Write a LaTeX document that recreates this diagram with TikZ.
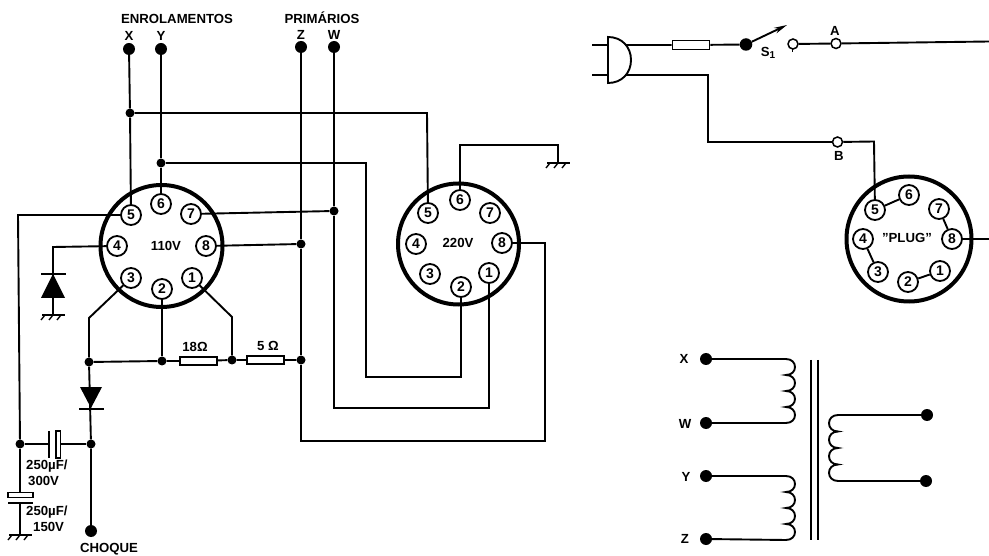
\documentclass[tikz,border=0pt]{standalone}
\usepackage{fontspec}
\setmainfont{Liberation Sans}
\usetikzlibrary{arrows.meta}
\tikzset{
  x=1pt,y=-1pt,
  wire/.style={line width=1.9pt,line join=miter},
  ring/.style={circle,draw,line width=4pt,inner sep=0pt,fill=white},
  pinc/.style={circle,draw,line width=1.8pt,fill=white,minimum size=20pt,inner sep=0pt,font=\bfseries\fontsize{14}{14}\selectfont},
  jn/.style={circle,fill=black,inner sep=0pt,minimum size=9pt},
  term/.style={circle,fill=black,inner sep=0pt,minimum size=12pt},
  opn/.style={circle,draw,line width=1.5pt,fill=white,inner sep=0pt,minimum size=10pt},
  res/.style={rectangle,draw,line width=1.8pt,fill=white,inner sep=0pt,minimum width=37pt,minimum height=8pt},
  lab/.style={inner sep=0pt,font=\bfseries\fontsize{13.2}{14}\selectfont,align=center}
}
\newcommand{\gnd}[2]{%
  \draw[line width=2.2pt] (#1-11,#2) -- (#1+12,#2);
  \foreach \d in {-8,0,8}{\draw[line width=1.4pt] (#1+\d,#2) -- (#1+\d-4,#2+5);}
}
\begin{document}
\begin{tikzpicture}
\useasboundingbox (0,0) rectangle (989,556);
\fill[white] (0,0) rectangle (989,556);

% sockets
\node[ring,minimum size=122pt] (LS) at (161.5,246) {};
\node[ring,minimum size=121pt] (RS) at (458.5,244) {};
\node[ring,minimum size=125pt] (PS) at (909,239) {};
\foreach \n/\x/\y in {5/131/215,6/161/204,7/191/214,8/206/246,1/192/278,2/162/289,3/131/278,4/117/246}
  \node[pinc] (L\n) at (\x,\y) {\n};
\foreach \n/\x/\y in {5/428/213,6/460/200,7/490/213,8/502/243,1/489/273,2/461/287,3/430/274,4/416/244}
  \node[pinc] (R\n) at (\x,\y) {\n};
\foreach \n/\x/\y in {5/875/210,6/909/195,7/939/209,8/952/239,1/940/271,2/908/282,3/878/272,4/863/239}
  \node[pinc] (P\n) at (\x,\y) {\n};
\node[lab] (t110) at (166,246) {110V};
\node[lab] (t220) at (458,243) {220V};
\node[lab] (tplug) at (907,238) {\symbol{34}PLUG\symbol{34}};

% terminals and junctions
\node[term] (TX) at (129,49) {};
\node[term] (TY) at (161,49) {};
\node[term] (TZ) at (301,47) {};
\node[term] (TW) at (334,47) {};
\node[jn] (JX) at (130,113) {};
\node[jn] (JY) at (161,163) {};
\node[jn] (JW) at (334,211) {};
\node[jn] (JZ) at (301,244) {};
\node[jn] (JR) at (301,360) {};
\node[jn] (JA) at (89,362) {};
\node[jn] (JB) at (162,361) {};
\node[jn] (JC) at (232,360) {};
\node[jn] (JD) at (20,444) {};
\node[jn] (JE) at (91,444) {};
\node[term] (CH) at (91,531) {};
\node[res] (RA) at (198.5,361) {};
\node[res] (RB) at (265.5,360) {};

% left socket wiring
\draw[wire] (TX) -- (JX) -- (L5);
\draw[wire] (TY) -- (JY) -- (L6);
\coordinate (x1) at (427,113);
\draw[wire] (JX) -- (x1) -- (R5);
\draw[wire] (TZ) -- (JZ) -- (JR);
\draw[wire] (TW) -- (JW);
\draw[wire] (L7) -- (JW);
\draw[wire] (L8) -- (JZ);
\draw[wire] (L2) -- (JB);
\draw[wire] (JA) -- (JB) -- (RA) -- (JC) -- (RB) -- (JR);
\coordinate (a3) at (89,318);
\coordinate (a1) at (232,317);
\draw[wire] (L3) -- (a3) -- (JA);
\draw[wire] (L1) -- (a1) -- (JC);

% long wires to right socket
\coordinate (c1) at (366,163); \coordinate (c2) at (366,377); \coordinate (c3) at (461,377);
\draw[wire] (JY) -- (c1) -- (c2) -- (c3) -- (R2);
\coordinate (d1) at (334,408); \coordinate (d2) at (489,408);
\draw[wire] (JW) -- (d1) -- (d2) -- (R1);
\coordinate (e1) at (301,441); \coordinate (e2) at (545,441); \coordinate (e3) at (545,243);
\draw[wire] (JR) -- (e1) -- (e2) -- (e3) -- (R8);
\coordinate (g1) at (460,145); \coordinate (g2) at (558,145); \coordinate (g3) at (558,163);
\draw[wire] (R6) -- (g1) -- (g2) -- (g3);
\gnd{558}{163}

% pin 5 to capacitors
\coordinate (f1) at (18,215);
\draw[wire] (L5) -- (f1) -- (JD);
\draw[wire] (JD) -- (JE);
\fill[white] (50,437) rectangle (56,451);
\draw[line width=2.4pt] (49,431) -- (49,458);
\draw[line width=1.5pt,fill=white] (56,431) rectangle (60.5,458);
\coordinate (cap2a) at (20,495);
\draw[wire] (JD) -- (cap2a);
\draw[line width=1.5pt,fill=white] (8,492.5) rectangle (33,497.5);
\draw[line width=2.4pt] (8,503) -- (33,503);
\coordinate (cap2b) at (20,503); \coordinate (gb) at (20,535);
\draw[wire] (cap2b) -- (gb);
\gnd{20}{535}

% diode to ground
\coordinate (h1) at (53,247); \coordinate (h2) at (53,315);
\draw[wire] (L4) -- (h1) -- (h2);
\draw[line width=2.8pt] (41,274) -- (66,274);
\fill (53,274) -- (65,298) -- (41,298) -- cycle;
\gnd{53}{315}

% series diode
\draw[wire] (JA) -- (JE) -- (CH);
\fill (80,387) -- (102,387) -- (91,408) -- cycle;
\draw[line width=2.8pt] (79,409) -- (104,409);

% texts left
\node[lab] (t1) at (177,19) {ENROLAMENTOS};
\node[lab] (t2) at (322,18) {PRIMÁRIOS};
\node[lab] (tX) at (129,36) {X};
\node[lab] (tY) at (161,36) {Y};
\node[lab] (tZ) at (301,35) {Z};
\node[lab] (tW) at (334,35) {W};
\node[lab] (t18) at (195,347) {18Ω};
\node[lab] (t5) at (268,346) {5 Ω};
\node[lab,anchor=west] (tc1) at (26,466) {250µF/};
\node[lab,anchor=west] (tc1b) at (28,481) {300V};
\node[lab,anchor=west] (tc2) at (26,512) {250µF/};
\node[lab,anchor=west] (tc2b) at (33,527) {150V};
\node[lab] (tch) at (109,549) {CHOQUE};

% mains plug
\coordinate (pa) at (592,45); \coordinate (pb) at (592,75);
\coordinate (pa2) at (608,45); \coordinate (pb2) at (608,75);
\draw[line width=1.9pt] (pa) -- (pa2);
\draw[line width=1.9pt] (pb) -- (pb2);
\draw[line width=1.9pt,fill=white] (608,37) .. controls (622,37) and (631,47) .. (631,60) .. controls (631,73) and (622,83) .. (608,83) -- cycle;
\node[res,minimum width=37pt,minimum height=9pt] (FU) at (691,45) {};
\node[term,minimum size=12.5pt] (SW) at (746,44.5) {};
\node[opn] (OC) at (793,44) {};
\node[opn] (NA) at (836,43.5) {};
\node[opn] (NB) at (837.5,142) {};
\coordinate (pc) at (626,45);
\coordinate (swtip) at (787,25);
\draw[wire] (pc) -- (FU) -- (SW);
\draw[line width=1.9pt,-{Stealth[length=13pt,width=6pt]}] (SW) -- (swtip);
\draw[wire] (OC) -- (NA);
\coordinate (aend) at (989,41.5);
\draw[wire] (NA) -- (aend);
\draw[line width=1.5pt] (792.5,49) -- (792.5,52);
\coordinate (b0) at (625,75); \coordinate (b1) at (708,75); \coordinate (b2) at (708,142);
\coordinate (b3) at (874,141.5);
\draw[wire] (b0) -- (b1) -- (b2) -- (NB) -- (b3) -- (P5);
\coordinate (pend) at (989,239);
\draw[wire] (P8) -- (pend);
\draw[wire] (P5) -- (P6);
\draw[wire] (P7) -- (P8);
\draw[wire] (P4) -- (P3);
\draw[wire] (P2) -- (P1);
\node[lab] (tS) at (768,52.5) {S\raisebox{-2pt}{\fontsize{10}{10}\selectfont 1}};
\node[lab] (tA) at (835,31) {A};
\node[lab] (tB) at (839,156) {B};

% transformer
\node[term] (XX) at (706,359) {};
\node[term] (WW) at (706,423) {};
\node[term] (YY) at (706,476) {};
\node[term] (ZZ) at (706,539) {};
\node[term] (S1) at (927,415) {};
\node[term] (S2) at (926,481) {};
\node[lab] (lX) at (684,359) {X};
\node[lab] (lW) at (685,424) {W};
\node[lab] (lY) at (686,477) {Y};
\node[lab] (lZ) at (685,539) {Z};
\coordinate (c1a) at (786,359); \coordinate (c1b) at (786,423);
\coordinate (c2a) at (786,476); \coordinate (c2b) at (786,540);
\coordinate (s1a) at (838,415); \coordinate (s1b) at (838,481);
\draw[wire] (XX) -- (c1a);
\draw[wire] (WW) -- (c1b);
\draw[wire] (YY) -- (c2a);
\draw[wire] (ZZ) -- (c2b);
\draw[wire] (S1) -- (s1a);
\draw[wire] (S2) -- (s1b);
\draw[wire] (c1a) .. controls +(12,0) and +(12,0) .. ++(0,16) .. controls +(12,0) and +(12,0) .. ++(0,16) .. controls +(12,0) and +(12,0) .. ++(0,16) .. controls +(12,0) and +(12,0) .. (c1b);
\draw[wire] (c2a) .. controls +(12,0) and +(12,0) .. ++(0,16) .. controls +(12,0) and +(12,0) .. ++(0,16) .. controls +(12,0) and +(12,0) .. ++(0,16) .. controls +(12,0) and +(12,0) .. (c2b);
\draw[wire] (s1a) .. controls +(-12,0) and +(-12,0) .. ++(0,16.5) .. controls +(-12,0) and +(-12,0) .. ++(0,16.5) .. controls +(-12,0) and +(-12,0) .. ++(0,16.5) .. controls +(-12,0) and +(-12,0) .. (s1b);
\draw[line width=1.5pt] (811,360) -- (811,540);
\draw[line width=1.5pt] (818,360) -- (818,540);
\end{tikzpicture}
\end{document}
